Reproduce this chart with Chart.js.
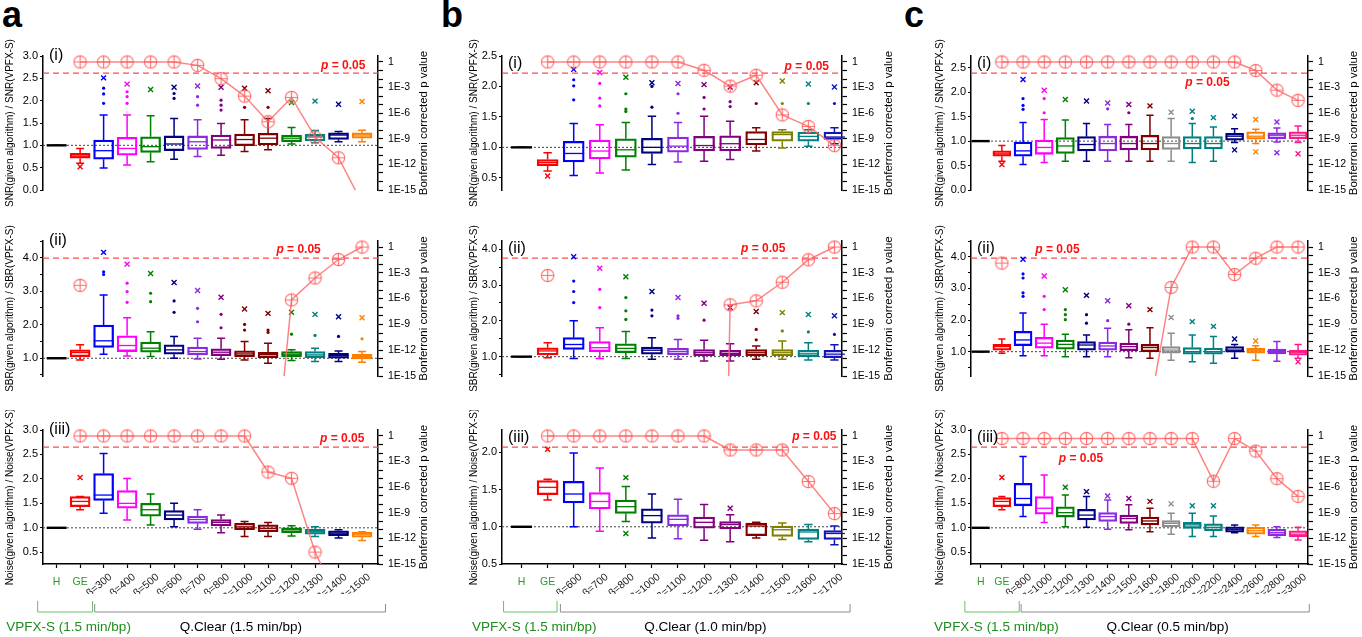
<!DOCTYPE html>
<html>
<head>
<meta charset="utf-8">
<title>SNR / SBR / Noise ratios with Bonferroni p values</title>
<script src="https://cdn.jsdelivr.net/npm/chart.js@4.4.1/dist/chart.umd.min.js"></script>
<style>
  body { margin: 0; width: 1362px; height: 637px; background: #fff; position: relative; overflow: hidden;
         font-family: "Liberation Sans", Arial, sans-serif; }
  canvas { position: absolute; }
  .letter { position: absolute; top: -3px; font-size: 36px; line-height: 1; font-weight: bold; }
</style>
</head>
<body>
<div class="letter" style="left:2px">a</div>
<div class="letter" style="left:441px">b</div>
<div class="letter" style="left:904px">c</div>
<script>
// categories
const aCats = ["H", "GE", "β=300", "β=400", "β=500", "β=600", "β=700", "β=800", "β=1000", "β=1100", "β=1200", "β=1300", "β=1400", "β=1500"];
const bCats = ["H", "GE", "β=600", "β=700", "β=800", "β=1000", "β=1100", "β=1200", "β=1300", "β=1400", "β=1500", "β=1600", "β=1700"];
const cCats = ["H", "GE", "β=800", "β=1000", "β=1200", "β=1300", "β=1400", "β=1500", "β=1600", "β=1800", "β=2000", "β=2200", "β=2400", "β=2600", "β=2800", "β=3000"];

// box stats per category: [whisker low, q1, median, q3, whisker high]
const aSnrBox = [[1,1,1,1,1],[0.60,0.71,0.76,0.82,0.93],[0.49,0.69,0.88,1.12,1.68],[0.56,0.78,0.93,1.18,1.68],[0.63,0.84,0.97,1.19,1.66],[0.69,0.88,1.03,1.21,1.60],[0.75,0.91,1.08,1.21,1.57],[0.78,0.93,1.12,1.23,1.49],[0.86,0.99,1.13,1.25,1.57],[0.90,1.01,1.16,1.27,1.60],[1.03,1.08,1.16,1.23,1.40],[1.06,1.10,1.19,1.25,1.33],[1.08,1.13,1.23,1.28,1.31],[1.08,1.16,1.23,1.28,1.34]];
const aSnrMax = [null,null,2.51,2.37,2.25,2.30,2.33,2.30,2.28,2.22,1.96,1.99,1.92,1.98];
const aSnrMin = [null,0.52,null,null,null,null,null,null,null,null,null,null,null,null];
const aSnrDots = [[2,2.28],[2,2.15],[2,1.94],[3,2.20],[3,2.09],[3,1.94],[5,2.16],[5,2.05],[6,2.09],[6,1.90],[7,2.01],[7,1.90],[7,1.79],[8,1.85],[9,1.85]];
const aSnrP = [null,1,1,1,1,1,0.4,0.011,1e-4,1e-7,7e-5,1.6e-9,6e-12,3e-17];

const aSbrBox = [[1,1,1,1,1],[0.95,1.05,1.17,1.25,1.40],[1.12,1.32,1.52,1.99,2.89],[1.07,1.20,1.38,1.67,2.21],[1.05,1.18,1.30,1.48,1.79],[1.00,1.12,1.25,1.40,1.65],[0.98,1.10,1.20,1.33,1.60],[0.97,1.08,1.18,1.28,1.60],[0.95,1.05,1.13,1.22,1.50],[0.85,1.02,1.11,1.18,1.45],[0.93,1.05,1.12,1.20,1.25],[0.90,1.02,1.10,1.20,1.30],[0.90,1.00,1.08,1.15,1.22],[0.88,0.98,1.05,1.12,1.20]];
const aSbrMax = [null,null,4.16,3.81,3.53,3.26,3.02,2.82,2.47,2.34,2.37,2.31,2.24,2.21];
const aSbrMin = [null,null,null,null,null,null,null,null,null,null,null,null,null,null];
const aSbrDots = [[2,3.58],[2,3.50],[3,3.24],[3,2.99],[3,2.67],[4,2.94],[4,2.69],[5,2.71],[5,2.37],[6,2.49],[6,2.09],[7,2.31],[7,1.91],[8,2.01],[8,1.84],[9,1.84],[9,1.77],[10,1.72],[11,1.68],[12,1.65],[13,1.58]];
const aSbrP = [null,3.5e-5,1e-60,1e-55,1e-50,1e-48,1e-45,1e-40,1e-38,1e-34,7e-7,2.5e-4,0.035,1];

const aNoiseBox = [[1,1,1,1,1],[1.37,1.43,1.54,1.64,1.64],[1.30,1.56,1.67,2.11,2.52],[1.16,1.40,1.50,1.76,2.01],[1.06,1.24,1.37,1.50,1.69],[1.02,1.16,1.26,1.35,1.50],[0.97,1.09,1.17,1.24,1.37],[0.90,1.04,1.11,1.17,1.26],[0.82,0.96,1.02,1.09,1.13],[0.82,0.92,0.99,1.06,1.11],[0.83,0.90,0.96,1.00,1.04],[0.82,0.87,0.92,0.97,1.02],[0.79,0.84,0.89,0.94,0.96],[0.74,0.81,0.87,0.91,0.92]];
const aNoiseMax = [null,2.03,null,null,null,null,null,null,null,null,null,null,null,null];
const aNoiseMin = [null,null,null,null,null,null,null,null,null,null,null,null,null,null];
const aNoiseDots = [];
const aNoiseP = [null,1,1,1,1,1,1,1,1,6e-5,1.1e-5,2.5e-14,5e-20,1e-22];

const bSnrBox = [[1,1,1,1,1],[0.61,0.70,0.75,0.80,0.91],[0.54,0.76,0.90,1.10,1.39],[0.58,0.81,0.94,1.12,1.37],[0.63,0.84,0.96,1.14,1.41],[0.72,0.90,1.00,1.15,1.51],[0.76,0.92,1.02,1.17,1.41],[0.77,0.94,1.03,1.18,1.51],[0.80,0.94,1.06,1.19,1.43],[0.94,1.04,1.13,1.26,1.32],[0.99,1.10,1.21,1.26,1.29],[1.02,1.10,1.18,1.25,1.29],[1.06,1.13,1.17,1.25,1.32]];
const bSnrMax = [null,null,2.28,2.23,2.15,2.06,2.05,2.03,1.99,2.06,2.09,2.04,1.99];
const bSnrMin = [null,0.53,null,null,null,null,null,null,null,null,null,null,null];
const bSnrDots = [[2,2.11],[2,2.01],[2,1.78],[3,2.05],[3,1.81],[3,1.68],[4,1.88],[4,1.63],[4,1.59],[5,2.00],[5,1.66],[6,1.88],[6,1.56],[7,1.82],[7,1.63],[8,1.75],[8,1.67],[9,1.72],[10,1.72],[11,1.72],[12,1.72]];
const bSnrP = [null,1,1,1,1,1,1,0.107,1.5e-3,0.028,6.3e-7,2.8e-8,1.6e-10];

const bSbrBox = [[1,1,1,1,1],[0.97,1.05,1.16,1.25,1.39],[0.95,1.20,1.34,1.53,2.00],[0.95,1.14,1.25,1.42,1.81],[0.95,1.11,1.23,1.36,1.70],[0.93,1.07,1.18,1.27,1.53],[0.93,1.05,1.14,1.23,1.48],[0.88,1.02,1.11,1.20,1.46],[0.88,1.02,1.09,1.18,1.36],[0.93,1.02,1.11,1.20,1.30],[0.93,1.02,1.11,1.20,1.44],[0.91,1.00,1.08,1.18,1.39],[0.91,0.97,1.07,1.18,1.33]];
const bSbrMax = [null,null,3.79,3.47,3.23,2.82,2.65,2.49,2.37,2.26,2.23,2.18,2.14];
const bSbrMin = [null,null,null,null,null,null,null,null,null,null,null,null,null];
const bSbrDots = [[2,3.11],[2,2.82],[2,2.51],[3,2.88],[3,2.37],[4,2.65],[4,2.28],[4,2.04],[5,2.30],[5,2.14],[6,2.14],[6,2.07],[7,2.02],[9,1.76],[9,1.47],[10,1.72],[11,1.69],[12,1.62]];
const bSbrP = [null,5e-4,1e-200,1e-190,1e-180,1e-170,1e-160,1e-150,1.9e-7,5.5e-7,8e-5,0.033,1];

const bNoiseBox = [[1,1,1,1,1],[1.36,1.43,1.53,1.62,1.64],[1.00,1.32,1.44,1.61,1.99],[0.94,1.24,1.34,1.46,1.79],[1.07,1.18,1.27,1.36,1.54],[0.85,1.05,1.15,1.24,1.44],[0.84,1.01,1.10,1.16,1.37],[0.82,0.98,1.06,1.13,1.30],[0.80,0.97,1.03,1.07,1.16],[0.85,0.88,1.01,1.05,1.06],[0.83,0.87,0.96,1.01,1.05],[0.80,0.83,0.93,0.97,1.03],[0.76,0.83,0.91,0.95,1.01]];
const bNoiseMax = [null,2.04,null,null,1.66,null,null,null,1.25,null,null,null,null];
const bNoiseMin = [null,null,null,null,0.91,null,null,null,null,null,null,null,null];
const bNoiseDots = [];
const bNoiseP = [null,1,1,1,1,1,1,1,0.023,0.023,0.023,4.6e-6,8e-10];

const cSnrBox = [[1,1,1,1,1],[0.59,0.69,0.74,0.80,0.91],[0.52,0.69,0.80,0.98,1.38],[0.56,0.73,0.87,1.02,1.44],[0.59,0.75,0.90,1.07,1.43],[0.59,0.80,0.93,1.09,1.36],[0.59,0.80,0.95,1.10,1.34],[0.59,0.82,0.95,1.10,1.34],[0.59,0.82,0.95,1.12,1.53],[0.59,0.83,0.95,1.09,1.46],[0.56,0.84,0.95,1.09,1.36],[0.59,0.84,0.95,1.09,1.29],[0.97,1.02,1.10,1.16,1.25],[0.95,1.04,1.10,1.19,1.24],[0.98,1.05,1.12,1.17,1.27],[0.97,1.05,1.12,1.19,1.31]];
const cSnrMax = [null,null,2.26,2.04,1.85,1.82,1.78,1.75,1.72,1.59,1.61,1.48,1.51,1.44,1.39,null];
const cSnrMin = [null,0.52,null,null,null,null,null,null,null,null,null,null,0.82,0.78,0.76,0.74];
const cSnrDots = [[2,1.87],[2,1.73],[2,1.65],[3,1.87],[3,1.58],[6,1.66],[7,1.58],[10,1.46]];
const cSnrP = [null,1,1,1,1,1,1,1,1,1,1,1,1,0.1,5e-4,3.2e-5];

const cSbrBox = [[1,1,1,1,1],[0.95,1.05,1.16,1.23,1.40],[0.87,1.19,1.37,1.64,2.22],[0.87,1.11,1.27,1.45,1.87],[0.84,1.08,1.23,1.37,1.55],[0.84,1.05,1.21,1.32,1.53],[0.84,1.05,1.18,1.30,1.74],[0.81,1.03,1.16,1.27,1.69],[0.79,1.00,1.13,1.23,1.76],[0.73,0.95,1.05,1.16,1.58],[0.68,0.92,1.00,1.13,1.53],[0.63,0.92,1.00,1.11,1.48],[0.79,0.98,1.05,1.16,1.23],[0.73,0.95,1.03,1.11,1.19],[0.70,0.93,1.00,1.08,1.32],[0.79,0.89,0.98,1.05,1.23]];
const cSbrMax = [null,null,3.92,3.39,2.96,2.78,2.61,2.45,2.33,2.08,1.95,1.80,1.40,1.34,null,null];
const cSbrMin = [null,null,null,null,null,null,null,null,null,null,null,null,null,null,null,0.68];
const cSbrDots = [[2,3.46],[2,3.33],[2,2.86],[2,2.75],[3,2.75],[3,2.33],[4,2.33],[4,2.17],[4,2.01],[5,2.17],[5,1.90],[6,1.98],[7,1.87]];
const cSbrP = [null,0.0135,1e-60,1e-55,1e-50,1e-45,1e-40,1e-30,2e-19,2e-5,1,1,6.3e-4,0.05,1,1];

const cNoiseBox = [[1,1,1,1,1],[1.37,1.43,1.54,1.62,1.64],[1.23,1.45,1.60,1.91,2.46],[1.11,1.28,1.40,1.64,2.08],[1.02,1.22,1.31,1.43,1.67],[1.01,1.16,1.26,1.38,1.64],[0.97,1.13,1.23,1.31,1.57],[0.96,1.09,1.19,1.26,1.47],[0.92,1.06,1.14,1.22,1.40],[0.87,1.02,1.09,1.15,1.30],[0.82,0.99,1.06,1.11,1.30],[0.82,0.94,1.01,1.08,1.24],[0.90,0.91,0.97,1.02,1.06],[0.82,0.87,0.94,1.01,1.06],[0.80,0.84,0.90,0.97,1.02],[0.75,0.82,0.87,0.94,1.01]];
const cNoiseMax = [null,2.03,null,null,1.83,1.74,1.65,1.60,1.54,1.49,1.45,1.45,null,null,null,null];
const cNoiseMin = [null,null,null,null,null,null,null,null,null,null,null,null,null,null,null,null];
const cNoiseDots = [];
const cNoiseP = [null,0.5,0.5,0.5,0.5,0.5,0.5,0.5,0.5,0.5,0.5,5e-6,0.5,0.017,1e-5,8.5e-8];

// colours
const K = "#000000", RD = "#ff0000", BL = "#0000ff", MG = "#ff00ff", GN = "#008000", NV = "#000080",
      VI = "#8a2be2", PU = "#800080", WI = "#800000", TE = "#008080", OL = "#808000", OR = "#ff8000",
      GY = "#8c8c8c", PK = "#ff1a8c", RY = "#1414b8";
const aColors = [K, RD, BL, MG, GN, NV, VI, PU, WI, WI, GN, TE, NV, OR];
const bColors = [K, RD, BL, MG, GN, NV, VI, PU, PU, WI, OL, TE, RY];
const cColors = [K, RD, BL, MG, GN, NV, VI, PU, WI, GY, TE, TE, NV, OR, VI, PK];

// layout of the three columns and three rows (pixels)
const cols = {
  a: { left: 43, right: 378, xMin: -0.58, xMax: 13.68, lw: 43, rw: 55, bar: 20, tagDy: -8,
       green: [-0.81, 1.53], gray: [1.62, 14.0], groupX: [0.51, 7.84], qTime: "1.5" },
  b: { left: 502, right: 842, xMin: -0.75, xMax: 12.29, lw: 38, rw: 56, bar: 21, tagDy: 0,
       green: [-0.69, 1.36], gray: [1.49, 12.6], groupX: [0.49, 7.05], qTime: "1.0" },
  c: { left: 971, right: 1308, xMin: -0.46, xMax: 15.47, lw: 41, rw: 55, bar: 18, tagDy: 0,
       green: [-0.75, 1.82], gray: [1.91, 15.53], groupX: [0.74, 8.83], qTime: "0.5" }
};
const rows = [
  { top: 56, bottom: 190, tag: "(i)" },
  { top: 241, bottom: 376, tag: "(ii)" },
  { top: 430, bottom: 564, tag: "(iii)" }
];

const snrTitle = "SNR(given algorithm) / SNR(VPFX-S)";
const sbrTitle = "SBR(given algorithm) / SBR(VPFX-S)";
const noiseTitle = "Noise(given algorithm) / Noise(VPFX-S)";

const panels = [
  { col: "a", row: 0, cats: aCats, colors: aColors, box: aSnrBox, hi: aSnrMax, lo: aSnrMin, dots: aSnrDots, p: aSnrP, y: [0, 3.0], intLabels: false, title: snrTitle, pLab: [12.2, 0.34] },
  { col: "a", row: 1, cats: aCats, colors: aColors, box: aSbrBox, hi: aSbrMax, lo: aSbrMin, dots: aSbrDots, p: aSbrP, y: [0.47, 4.5], intLabels: true, title: sbrTitle, pLab: [10.3, 0.54] },
  { col: "a", row: 2, cats: aCats, colors: aColors, box: aNoiseBox, hi: aNoiseMax, lo: aNoiseMin, dots: aNoiseDots, p: aNoiseP, y: [0.26, 3.0], intLabels: false, title: noiseTitle, pLab: [12.16, 0.45] },
  { col: "b", row: 0, cats: bCats, colors: bColors, box: bSnrBox, hi: bSnrMax, lo: bSnrMin, dots: bSnrDots, p: bSnrP, y: [0.3, 2.5], intLabels: false, title: snrTitle, pLab: [10.94, 0.32] },
  { col: "b", row: 1, cats: bCats, colors: bColors, box: bSbrBox, hi: bSbrMax, lo: bSbrMin, dots: bSbrDots, p: bSbrP, y: [0.46, 4.23], intLabels: true, title: sbrTitle, pLab: [9.27, 0.63] },
  { col: "b", row: 2, cats: bCats, colors: bColors, box: bNoiseBox, hi: bNoiseMax, lo: bNoiseMin, dots: bNoiseDots, p: bNoiseP, y: [0.5, 2.3], intLabels: false, title: noiseTitle, pLab: [11.23, 0.76] },
  { col: "c", row: 0, cats: cCats, colors: cColors, box: cSnrBox, hi: cSnrMax, lo: cSnrMin, dots: cSnrDots, p: cSnrP, y: [0, 2.74], intLabels: false, title: snrTitle, pLab: [10.72, 0.0035] },
  { col: "c", row: 1, cats: cCats, colors: cColors, box: cSbrBox, hi: cSbrMax, lo: cSbrMin, dots: cSbrDots, p: cSbrP, y: [0.23, 4.5], intLabels: true, title: sbrTitle, pLab: [3.63, 0.48] },
  { col: "c", row: 2, cats: cCats, colors: cColors, box: cNoiseBox, hi: cNoiseMax, lo: cNoiseMin, dots: cNoiseDots, p: cNoiseP, y: [0.26, 3.0], intLabels: false, title: noiseTitle, pLab: [4.74, 0.0021] }
];

const FONT = '"Liberation Sans", Arial, sans-serif';
Chart.defaults.font.family = FONT;
Chart.defaults.color = "#000";

// circle with a plus inside, used for the p-value points
const ring = document.createElement("canvas");
ring.width = 15; ring.height = 15;
(function () {
  const g = ring.getContext("2d");
  g.strokeStyle = "rgba(255,90,90,0.85)";
  g.lineWidth = 1.2;
  g.beginPath(); g.arc(7.5, 7.5, 6.2, 0, Math.PI * 2); g.stroke();
  g.beginPath(); g.moveTo(1.3, 7.5); g.lineTo(13.7, 7.5); g.moveTo(7.5, 1.3); g.lineTo(7.5, 13.7); g.stroke();
})();

function decoPlugin(s, L, R, bottomRow) {
  return {
    id: "deco",
    // whiskers, caps and medians drawn right after the boxes
    afterDatasetDraw(chart, args) {
      if (args.index !== 0) return;
      const ctx = chart.ctx, xs = chart.scales.x, ys = chart.scales.y;
      ctx.save();
      s.box.forEach((b, i) => {
        const cx = xs.getPixelForValue(i), hw = L.bar / 2, cap = L.bar * 0.2;
        const [lo, q1, md, q3, hi] = b.map(v => ys.getPixelForValue(v));
        ctx.strokeStyle = s.colors[i];
        ctx.lineWidth = 1.5;
        ctx.beginPath();
        ctx.moveTo(cx, q3); ctx.lineTo(cx, hi);
        ctx.moveTo(cx - cap, hi); ctx.lineTo(cx + cap, hi);
        ctx.moveTo(cx, q1); ctx.lineTo(cx, lo);
        ctx.moveTo(cx - cap, lo); ctx.lineTo(cx + cap, lo);
        ctx.stroke();
        ctx.lineWidth = i === 0 ? 2.4 : 1.3;
        ctx.beginPath(); ctx.moveTo(cx - hw, md); ctx.lineTo(cx + hw, md); ctx.stroke();
      });
      ctx.restore();
    },
    afterDraw(chart) {
      const ctx = chart.ctx, a = chart.chartArea, xs = chart.scales.x, y2 = chart.scales.y2;
      ctx.save();
      // panel tag
      ctx.fillStyle = "#000";
      ctx.font = "16px " + FONT;
      ctx.textAlign = "left"; ctx.textBaseline = "top";
      ctx.fillText(R.tag, a.left + 6, a.top + L.tagDy);
      // p = 0.05 label
      const px = xs.getPixelForValue(s.pLab[0]), py = y2.getPixelForValue(s.pLab[1]);
      ctx.fillStyle = "#ff1010"; ctx.textBaseline = "middle";
      ctx.font = "italic bold 12px " + FONT;
      const w1 = ctx.measureText("p").width;
      ctx.font = "bold 12px " + FONT;
      const w2 = ctx.measureText(" = 0.05").width;
      const x0 = px - (w1 + w2) / 2;
      ctx.font = "italic bold 12px " + FONT; ctx.fillText("p", x0, py);
      ctx.font = "bold 12px " + FONT; ctx.fillText(" = 0.05", x0 + w1, py);
      // right axis title, reading upward
      ctx.save();
      ctx.translate(a.right + L.rw - 9, (a.top + a.bottom) / 2);
      ctx.rotate(-Math.PI / 2);
      ctx.fillStyle = "#000"; ctx.font = "11.5px " + FONT;
      ctx.textAlign = "center"; ctx.textBaseline = "middle";
      ctx.fillText("Bonferroni corrected p value", 0, 0);
      ctx.restore();
      if (bottomRow) {
        ctx.textAlign = "center"; ctx.textBaseline = "middle";
        ctx.font = "10.5px " + FONT; ctx.fillStyle = "#2a9a2a";
        ctx.fillText(s.cats[0], xs.getPixelForValue(0), a.bottom + 18);
        ctx.fillText(s.cats[1], xs.getPixelForValue(1), a.bottom + 18);
        const yb = a.bottom + 48;
        ctx.lineWidth = 1;
        ctx.strokeStyle = "#66c266";
        let g0 = xs.getPixelForValue(L.green[0]), g1 = xs.getPixelForValue(L.green[1]);
        ctx.beginPath(); ctx.moveTo(g0, a.bottom + 37); ctx.lineTo(g0, yb); ctx.lineTo(g1, yb); ctx.lineTo(g1, a.bottom + 37); ctx.stroke();
        ctx.strokeStyle = "#8c8c8c";
        g0 = xs.getPixelForValue(L.gray[0]); g1 = xs.getPixelForValue(L.gray[1]);
        ctx.beginPath(); ctx.moveTo(g0, a.bottom + 40); ctx.lineTo(g0, yb); ctx.lineTo(g1, yb); ctx.lineTo(g1, a.bottom + 40); ctx.stroke();
        ctx.font = "13.5px " + FONT;
        ctx.fillStyle = "#1e8c1e";
        ctx.fillText("VPFX-S (1.5 min/bp)", xs.getPixelForValue(L.groupX[0]), a.bottom + 63);
        ctx.fillStyle = "#000";
        ctx.fillText("Q.Clear (" + L.qTime + " min/bp)", xs.getPixelForValue(L.groupX[1]), a.bottom + 63);
      }
      ctx.restore();
    }
  };
}

function makePanel(s) {
  const L = cols[s.col], R = rows[s.row];
  const bottomRow = s.row === 2, sepGE = s.row === 1;
  const padTop = 20, padBottom = bottomRow ? 637 - R.bottom : 20;
  const xAxisH = bottomRow ? 30 : 0;
  const cv = document.createElement("canvas");
  cv.width = L.right - L.left + L.lw + L.rw;
  cv.height = R.bottom - R.top + padTop + padBottom;
  cv.style.left = (L.left - L.lw) + "px";
  cv.style.top = (R.top - padTop) + "px";
  document.body.appendChild(cv);

  const marks = [];
  s.box.forEach((b, i) => {
    if (s.hi[i] != null) marks.push({ x: i, y: s.hi[i] });
    if (s.lo[i] != null) marks.push({ x: i, y: s.lo[i] });
  });
  const colorOf = ctx => s.colors[ctx.raw ? ctx.raw.x : 0];

  const datasets = [
    {
      type: "bar", order: 4, yAxisID: "y",
      data: s.box.map((b, i) => ({ x: i, y: [b[1], b[3]] })),
      backgroundColor: "rgba(255,255,255,0)", borderColor: s.colors,
      borderWidth: 1.6, borderSkipped: false, barThickness: L.bar
    },
    {
      type: "scatter", order: 3, yAxisID: "y", data: marks,
      pointStyle: "crossRot", pointRadius: 3.5, borderWidth: 1.4,
      pointBorderColor: colorOf, pointBackgroundColor: colorOf
    },
    {
      type: "scatter", order: 3, yAxisID: "y",
      data: s.dots.map(d => ({ x: d[0], y: d[1] })),
      pointStyle: "circle", pointRadius: 1.6, borderWidth: 0,
      pointBackgroundColor: colorOf
    },
    {
      type: "line", order: 1, yAxisID: "y2",
      data: s.p.map((v, i) => ({ x: i, y: (sepGE && i === 1) ? null : v })),
      borderColor: "rgba(255,100,100,0.8)", borderWidth: 1.5,
      pointStyle: ring, pointRadius: 6, spanGaps: false,
      clip: { left: 10, right: 10, top: 10, bottom: 0 }
    },
    {
      type: "line", order: 6, yAxisID: "y",
      data: [{ x: L.xMin, y: 1 }, { x: L.xMax, y: 1 }],
      borderColor: "#444", borderWidth: 1, borderDash: [2, 2], pointRadius: 0
    },
    {
      type: "line", order: 6, yAxisID: "y2",
      data: [{ x: L.xMin, y: 0.05 }, { x: L.xMax, y: 0.05 }],
      borderColor: "#ff4a4a", borderWidth: 1.2, borderDash: [6, 4], pointRadius: 0
    }
  ];
  if (sepGE) {
    datasets.push({
      type: "scatter", order: 1, yAxisID: "y2",
      data: [{ x: 1, y: s.p[1] }], pointStyle: ring, pointRadius: 6
    });
  }

  new Chart(cv, {
    type: "scatter",
    data: { datasets },
    options: {
      responsive: false, animation: false, events: [],
      layout: { padding: { top: padTop, bottom: padBottom - xAxisH, left: 0, right: 0 } },
      plugins: { legend: { display: false }, tooltip: { enabled: false } },
      scales: {
        x: {
          type: "linear", min: L.xMin, max: L.xMax, offset: false, display: bottomRow,
          afterBuildTicks: sc => { sc.ticks = s.cats.map((c, i) => ({ value: i })); },
          afterFit: sc => { sc.height = xAxisH; },
          grid: { drawOnChartArea: false, drawTicks: true, tickLength: 4, tickColor: "#000", tickWidth: 1.2, offset: false },
          border: { display: true, color: "#000", width: 1.5 },
          ticks: {
            autoSkip: false, minRotation: 40, maxRotation: 40, padding: 3, labelOffset: 7, color: "#222",
            font: { size: 10.5 },
            callback: v => (v < 2 ? "" : s.cats[v])
          }
        },
        y: {
          type: "linear", position: "left", min: s.y[0], max: s.y[1],
          afterFit: sc => { sc.width = L.lw; },
          grid: { drawOnChartArea: false, tickLength: 3, tickColor: "#000", tickWidth: 1.2 },
          border: { display: true, color: "#000", width: 1.5 },
          ticks: {
            stepSize: 0.5, includeBounds: false, autoSkip: false, padding: 2, color: "#000",
            font: { size: 11 },
            callback: v => (s.intLabels && Math.abs(v - Math.round(v)) > 1e-6) ? "" : v.toFixed(1)
          },
          title: { display: true, text: s.title, color: "#000", font: { size: 10 }, padding: { top: 4, bottom: 0 } }
        },
        y2: {
          type: "logarithmic", position: "right", min: 1e-15, max: 5,
          afterFit: sc => { sc.width = L.rw; },
          afterBuildTicks: sc => {
            sc.ticks = [];
            for (let k = 0; k <= 15; k++) sc.ticks.push({ value: Math.pow(10, -k) });
          },
          grid: { drawOnChartArea: false, tickLength: 5, tickColor: "#000", tickWidth: 1.2 },
          border: { display: true, color: "#000", width: 1.5 },
          ticks: {
            autoSkip: false, padding: 5, color: "#000", font: { size: 10.5 },
            callback: v => {
              const k = Math.round(-Math.log10(v));
              return k % 3 ? "" : (k === 0 ? "1" : "1E-" + k);
            }
          }
        }
      }
    },
    plugins: [decoPlugin(s, L, R, bottomRow)]
  });
}

panels.forEach(makePanel);
</script>
</body>
</html>
